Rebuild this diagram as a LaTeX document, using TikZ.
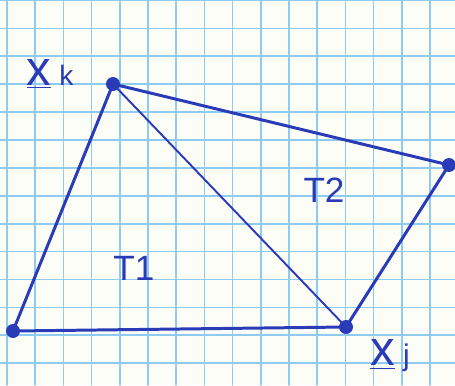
\documentclass[tikz,border=0pt]{standalone}
\usepackage{fontspec}
\setmainfont{Liberation Sans}
\definecolor{pen}{HTML}{2A3BB8}
\definecolor{paper}{HTML}{FDFDF8}
\definecolor{gridblue}{HTML}{8FCBF0}
\tikzset{
  vtx/.style={circle,fill=pen,draw=pen,inner sep=0pt,minimum size=7.5pt},
  edge/.style={draw=pen,line width=1.7pt},
  thinedge/.style={draw=pen,line width=1.1pt},
  lbl/.style={text=pen,inner sep=0pt,font=\fontsize{20}{20}\selectfont}
}
\begin{document}
\begin{tikzpicture}[x=0.02cm,y=-0.02cm,line cap=round,line join=round]
\fill[paper] (0,0) rectangle (455,385);
\useasboundingbox (0,0) rectangle (455,385);
% graph paper
\foreach \x in {0,...,15}{
  \draw[gridblue,line width=1pt] (7+28.2*\x,0) -- (7+28.2*\x,385);
}
\foreach \y in {0,...,13}{
  \draw[gridblue,line width=1pt] (0,0.5+27.9*\y) -- (455,0.5+27.9*\y);
}
% vertices
\node[vtx] (xl) at (13,331) {};
\node[vtx] (xk) at (113,84) {};
\node[vtx] (xr) at (449,165) {};
\node[vtx] (xj) at (346,327) {};
% edges
\draw[edge] (xl.center) -- (xk.center) -- (xr.center) -- (xj.center) -- (xl.center);
\draw[thinedge] (xk.center) -- (xj.center);
% labels
\node[lbl,font=\fontsize{28}{28}\selectfont] (lk) at (50,74) {\underline{x}\,{\fontsize{16}{16}\selectfont k}};
\node[lbl,font=\fontsize{28}{28}\selectfont] (lj) at (390,356) {\underline{x}\,{\fontsize{17}{17}\selectfont j}};
\node[lbl] (t1) at (134,268) {T1};
\node[lbl] (t2) at (324,190) {T2};
\end{tikzpicture}
\end{document}
